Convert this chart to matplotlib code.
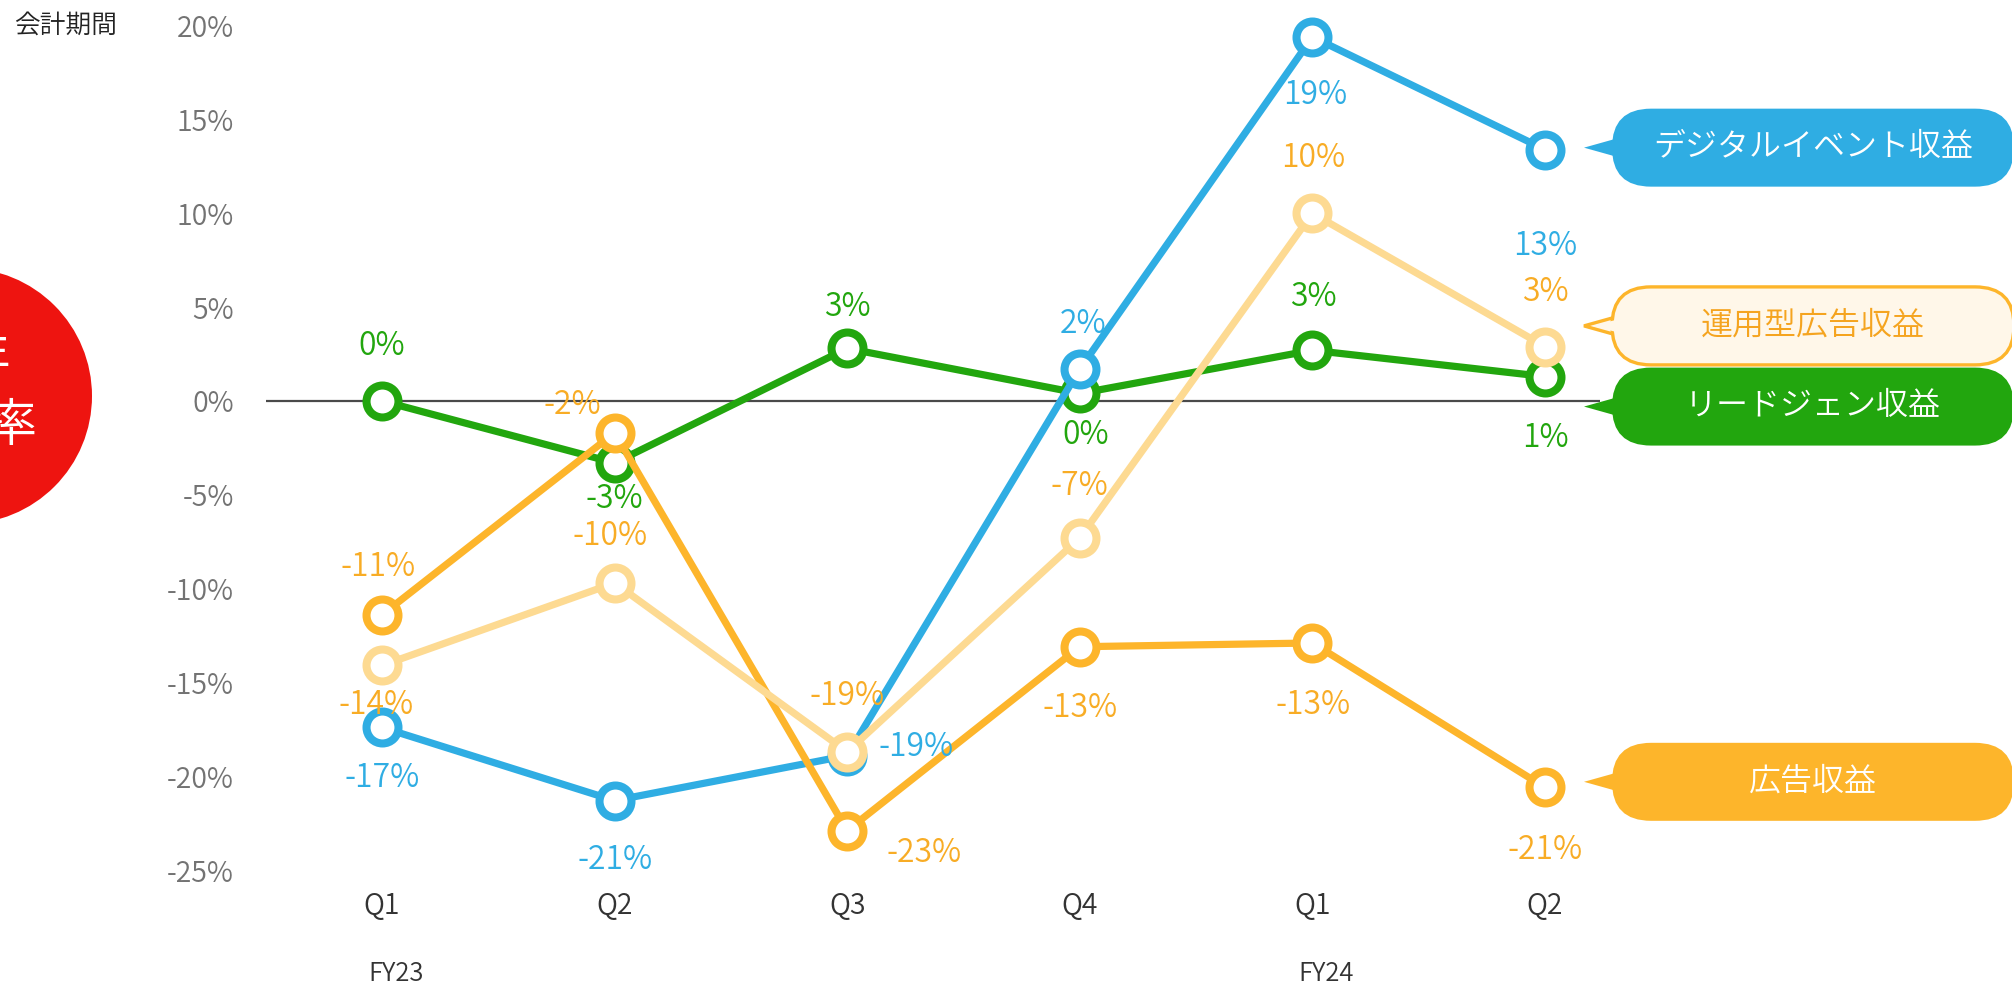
import matplotlib
matplotlib.use("Agg")
import matplotlib.pyplot as plt
from matplotlib.patches import FancyBboxPatch, Polygon, Circle
import matplotlib.transforms as mtransforms

plt.rcParams['font.family'] = ['Noto Sans CJK JP', 'DejaVu Sans']
plt.rcParams['font.weight'] = 350

# ---------------- data ----------------
quarters = ["Q1", "Q2", "Q3", "Q4", "Q1", "Q2"]
fiscal_years = ["FY23", "FY24"]
fy_start_idx = [0, 4]
yticks = [-25, -20, -15, -10, -5, 0, 5, 10, 15, 20]

digital_event = [-17.4, -21.3, -18.9, 1.7, 19.4, 13.4]
programmatic_ad = [-14.1, -9.7, -18.7, -7.3, 10.0, 2.9]
lead_gen = [0.0, -3.3, 2.8, 0.4, 2.7, 1.3]
ad_revenue = [-11.4, -1.7, -22.9, -13.1, -12.9, -20.6]

series_names = ["デジタルイベント収益", "運用型広告収益", "リードジェン収益", "広告収益"]
x_label = "会計期間"
badge_text = "前年\n成長率"

# ---------------- style / layout ----------------
W, H = 2012, 988
BLUE = "#2FADE3"
GREEN = "#22A60E"
ORANGE = "#FDB52B"
LIGHT = "#FDDA92"
LABEL_ORANGE = "#F8AC25"
RED = "#EE1410"

fig = plt.figure(figsize=(W / 100, H / 100), dpi=100)
ax_left, ax_right, ax_top, ax_bot = 266, 1600, 25.7, 870
ax = fig.add_axes([ax_left / W, 1 - ax_bot / H, (ax_right - ax_left) / W, (ax_bot - ax_top) / H])
xstep = (1545 - 382) / 5
ax.set_xlim((ax_left - 382) / xstep, (ax_right - 382) / xstep)
ax.set_ylim(-25, 20)
for s in ax.spines.values():
    s.set_visible(False)
ax.set_yticks(yticks)
ax.set_yticklabels([f"{t}%" for t in yticks])
ax.tick_params(axis='y', length=0, pad=23, labelsize=20.5, labelcolor="#737373")
ax.set_xticks([])
ax.axhline(0, color="#4a4a4a", lw=1.6, zorder=1)

xs = list(range(len(quarters)))
for i, q in enumerate(quarters):
    ax.text(i, -0.0426, q, transform=mtransforms.blended_transform_factory(ax.transData, ax.transAxes),
            ha='center', va='center', fontsize=20.5, color="#333333")
for fy, i in zip(fiscal_years, fy_start_idx):
    ax.text(i + 0.06, -0.123, fy, transform=mtransforms.blended_transform_factory(ax.transData, ax.transAxes),
            ha='center', va='center', fontsize=18.5, color="#333333")

fig.text(14 / W, 1 - 26 / H, x_label, ha='left', va='center', fontsize=18.5, color="#222222")

series = [
    (lead_gen, GREEN, GREEN, 3,
     [(0, 54), (0, -37), (0, 41), (6, -42), (1, 53), (0, -62)]),
    (digital_event, BLUE, BLUE, 4,
     [(0, -51), (0, -60), (69, 8), (3, 45), (3, -59), (0, -97)]),
    (ad_revenue, ORANGE, LABEL_ORANGE, 5,
     [(-4, 47), (-42, 27), (77, -23), (0, -62), (1, -63), (0, -63)]),
    (programmatic_ad, LIGHT, LABEL_ORANGE, 6,
     [(-6, -40), (-5, 46), (0, 55), (0, 51), (1, 55), (0, 54)]),
]

for vals, col, lcol, z, offs in series:
    ax.plot(xs, vals, color=col, lw=5.2, marker='o', ms=23, mew=5.8,
            mfc='white', mec=col, zorder=z, clip_on=False, solid_capstyle='round')
    for x, v, (dx, dy) in zip(xs, vals, offs):
        ax.annotate(f"{round(v)}%", (x, v), xytext=(dx, dy), textcoords='offset pixels',
                    ha='center', va='center', fontsize=23, color=lcol, zorder=10)

# ---------------- overlay (badge & callouts) ----------------
ov = fig.add_axes([0, 0, 1, 1], zorder=5)
ov.set_xlim(0, W)
ov.set_ylim(H, 0)
ov.axis('off')
ov.patch.set_alpha(0)

ov.add_patch(Circle((-36, 396), 128, color=RED, lw=0))
ov.text(-40, 392, badge_text, ha='center', va='center', fontsize=37, color='white',
        linespacing=1.3, multialignment='center')

fig.canvas.draw()

def to_px(v):
    return H - ax.transData.transform((0, v))[1]

callout_vals = [13.5, 4.0, -0.3, -20.3]
callout_styles = [
    (BLUE, BLUE, 'white'),
    ("#FFF7E9", ORANGE, "#F5A41F"),
    (GREEN, GREEN, 'white'),
    (ORANGE, ORANGE, 'white'),
]
pl, pr, ph = 1612, 2014, 78
for name, v, (face, edge, tcol) in zip(series_names, callout_vals, callout_styles):
    c = to_px(v)
    outlined = face != edge
    lw = 2.4 if outlined else 0
    ov.add_patch(Polygon([(1584, c), (1634, c - 14), (1634, c + 14)], closed=True,
                         facecolor=face, edgecolor=edge, lw=lw, zorder=1))
    ov.add_patch(FancyBboxPatch((pl, c - ph / 2), pr - pl, ph,
                                boxstyle=f"round,pad=0,rounding_size={ph/2}",
                                facecolor=face, edgecolor=edge, lw=lw, zorder=2))
    if outlined:
        ov.add_patch(Polygon([(1592, c), (1634, c - 10.5), (1634, c + 10.5)], closed=True,
                             facecolor=face, edgecolor='none', zorder=3))
    ov.text((pl + pr) / 2, c, name, ha='center', va='center', fontsize=23,
            color=tcol, zorder=4)

fig.savefig("out.png", dpi=100)
